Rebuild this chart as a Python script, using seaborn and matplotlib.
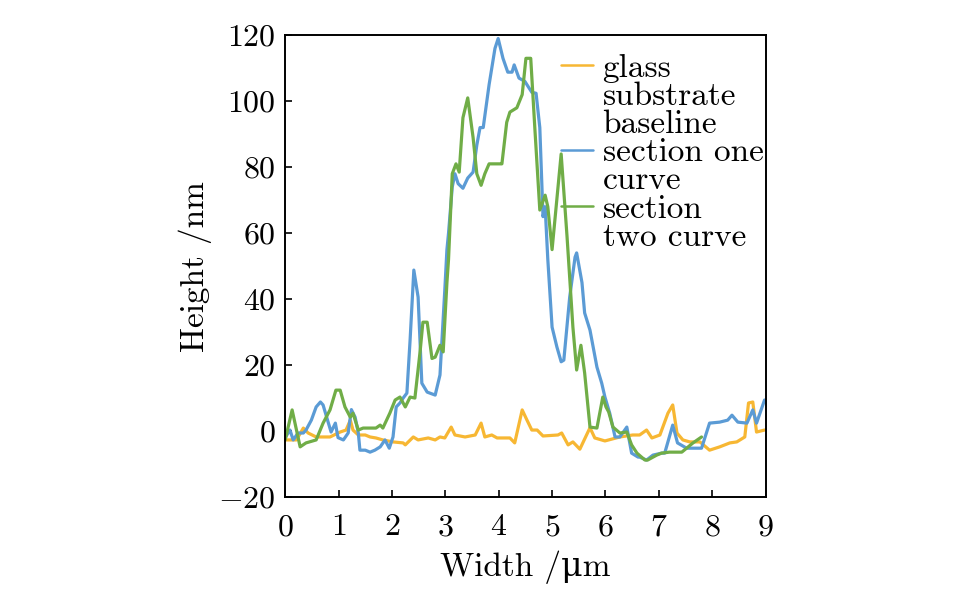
import numpy as np
import pandas as pd
import matplotlib
matplotlib.use("Agg")
import matplotlib.pyplot as plt
from matplotlib.lines import Line2D
import seaborn as sns

# values (width in um, height in nm)
glass_x = [0.00, 0.21, 0.34, 0.43, 0.58, 0.84, 1.03, 1.14, 1.22, 1.27, 1.37, 1.50, 1.59, 1.70,
           1.83, 2.02, 2.21, 2.25, 2.40, 2.49, 2.68, 2.81, 2.90, 2.99, 3.11, 3.18, 3.37, 3.56,
           3.67, 3.74, 3.87, 3.97, 4.21, 4.30, 4.44, 4.53, 4.62, 4.72, 4.83, 5.11, 5.18, 5.30,
           5.39, 5.52, 5.71, 5.80, 5.99, 6.27, 6.51, 6.64, 6.77, 6.87, 7.02, 7.17, 7.26, 7.34,
           7.45, 7.58, 7.77, 7.95, 8.14, 8.33, 8.46, 8.61, 8.68, 8.76, 8.83, 8.98]
glass_y = [-2.7, -2.7, 0.9, -0.6, -1.8, -1.8, -0.3, 0.3, 3.3, 0.3, -1.2, -1.2, -1.8, -2.1,
           -2.7, -3.3, -3.6, -4.2, -1.8, -2.7, -2.1, -2.7, -1.8, -2.1, 1.2, -1.2, -1.8, -1.2,
           2.4, -1.8, -1.2, -2.1, -2.1, -3.6, 6.4, 3.3, 0.3, 0.3, -1.5, -1.2, -0.6, -4.2,
           -3.3, -5.5, 1.0, -2.1, -3.0, -1.8, -1.2, -1.2, 0.3, -2.1, -1.2, 5.4, 7.9, -0.6,
           -2.7, -3.3, -3.3, -5.8, -4.8, -3.6, -3.3, -1.8, 8.5, 8.8, -0.3, 0.3]

one_x = [0.00, 0.09, 0.15, 0.24, 0.34, 0.39, 0.49, 0.58, 0.66, 0.71, 0.81, 0.86, 0.94, 0.99,
         1.09, 1.18, 1.24, 1.31, 1.37, 1.40, 1.50, 1.59, 1.68, 1.78, 1.87, 1.95, 2.02, 2.08,
         2.15, 2.21, 2.28, 2.34, 2.41, 2.49, 2.56, 2.66, 2.81, 2.90, 2.99, 3.03, 3.06, 3.13,
         3.18, 3.24, 3.33, 3.42, 3.52, 3.59, 3.65, 3.71, 3.82, 3.93, 3.99, 4.08, 4.17, 4.25,
         4.29, 4.38, 4.49, 4.62, 4.70, 4.77, 4.83, 4.87, 4.92, 5.00, 5.09, 5.17, 5.22, 5.33,
         5.43, 5.46, 5.56, 5.61, 5.71, 5.84, 5.93, 5.99, 6.08, 6.18, 6.27, 6.40, 6.49, 6.61,
         6.64, 6.77, 6.89, 7.05, 7.11, 7.26, 7.35, 7.52, 7.64, 7.80, 7.95, 8.14, 8.29, 8.37,
         8.48, 8.65, 8.76, 8.83, 8.98]
one_y = [-2.0, 0.3, -2.7, -0.6, -0.6, 0.3, 3.3, 7.3, 8.8, 7.9, 2.4, -0.3, 2.4, -2.0,
         -2.7, -0.6, 6.5, 4.2, -0.6, -5.8, -5.8, -6.4, -5.8, -4.8, -2.7, -5.2, -1.8, 7.3,
         8.5, 10.0, 11.5, 27.6, 48.8, 40.6, 14.5, 11.8, 10.9, 17.0, 42.7, 55.0, 60.0, 74.0,
         78.0, 75.0, 73.6, 76.7, 78.5, 86.7, 92.0, 92.0, 105.0, 116.0, 119.0, 113.0, 108.8, 108.8,
         111.0, 107.0, 106.0, 102.7, 102.4, 92.0, 65.0, 68.0, 52.0, 31.5, 25.5, 21.0, 21.5, 40.6,
         52.7, 54.0, 45.0, 35.8, 30.6, 19.4, 14.5, 10.3, 5.4, -1.8, -1.8, 1.2, -6.7, -7.9,
         -7.9, -8.8, -7.3, -6.7, -6.7, 1.8, -3.6, -5.2, -5.2, -5.2, 2.4, 2.7, 3.3, 4.8,
         2.7, 2.4, 6.4, 2.4, 9.4]

two_x = [0.00, 0.13, 0.28, 0.39, 0.58, 0.71, 0.84, 0.95, 1.03, 1.12, 1.22, 1.27, 1.37, 1.46,
         1.59, 1.70, 1.78, 1.83, 1.96, 2.06, 2.15, 2.25, 2.34, 2.43, 2.53, 2.58, 2.66, 2.75,
         2.81, 2.90, 2.96, 3.03, 3.06, 3.13, 3.20, 3.26, 3.33, 3.42, 3.52, 3.59, 3.67, 3.74,
         3.82, 4.02, 4.06, 4.15, 4.21, 4.34, 4.44, 4.51, 4.60, 4.68, 4.77, 4.87, 4.92, 5.00,
         5.17, 5.28, 5.39, 5.46, 5.54, 5.61, 5.71, 5.84, 5.95, 6.01, 6.06, 6.14, 6.27, 6.40,
         6.49, 6.59, 6.74, 6.79, 6.96, 7.05, 7.20, 7.43, 7.64, 7.80]
two_y = [-2.7, 6.4, -4.8, -3.6, -2.7, 2.4, 6.4, 12.4, 12.4, 7.3, 4.2, 5.4, 0.3, 0.9,
         0.9, 0.9, 1.8, 0.9, 5.4, 9.4, 10.3, 7.3, 10.3, 10.0, 24.5, 33.0, 33.0, 22.0,
         22.4, 26.0, 24.0, 45.0, 52.0, 78.0, 81.0, 78.5, 95.0, 101.0, 89.0, 78.0, 74.5, 78.0,
         81.0, 81.0, 81.0, 93.6, 96.7, 98.0, 102.0, 113.0, 113.0, 91.0, 67.0, 71.5, 68.0, 55.0,
         84.0, 59.0, 31.5, 18.5, 26.0, 17.6, 1.2, 0.9, 10.3, 7.3, 5.8, 1.2, -0.6, -0.3,
         -4.2, -6.7, -8.8, -8.8, -7.3, -6.7, -6.4, -6.4, -3.6, -1.8]

labels = ["glass\nsubstrate\nbaseline", "section one\ncurve", "section\ntwo curve"]
colors = ["#F7B733", "#5B9BD5", "#70AD47"]

sns.set_style("ticks")
plt.rcParams["font.family"] = ["cmr10", "DejaVu Serif"]
plt.rcParams["mathtext.fontset"] = "cm"
plt.rcParams["axes.formatter.use_mathtext"] = True
plt.rcParams["font.size"] = 23
plt.rcParams["text.color"] = "black"
plt.rcParams["axes.labelcolor"] = "black"
plt.rcParams["xtick.color"] = "black"
plt.rcParams["ytick.color"] = "black"

fig = plt.figure(figsize=(9.57, 5.97), dpi=100)
ax = fig.add_axes([0.298, 0.1675, 0.502, 0.7735])

for xs, ys, c in zip([glass_x, one_x, two_x], [glass_y, one_y, two_y], colors):
    sns.lineplot(x=xs, y=ys, color=c, linewidth=2.3, estimator=None, sort=False, ax=ax)

ax.set_xlim(0, 9)
ax.set_ylim(-20, 120)
ax.set_xticks(range(0, 10))
ax.set_yticks(range(-20, 121, 20))
ax.tick_params(direction="in", length=5, width=1.2, labelsize=23)
ax.tick_params(axis="x", pad=12)
ax.tick_params(axis="y", pad=7)
for s in ax.spines.values():
    s.set_visible(True)
    s.set_linewidth(1.4)
    s.set_color("black")
ax.set_xlabel("Width /\u03bcm", fontsize=24, labelpad=7)
ax.set_ylabel("Height /nm", fontsize=24, labelpad=4)

# one legend row per text line, handle only on the first line of each entry
handles, texts = [], []
for lab, c in zip(labels, colors):
    for i, part in enumerate(lab.split("\n")):
        if i == 0:
            handles.append(Line2D([], [], color=c, linewidth=1.8))
        else:
            handles.append(Line2D([], [], color="none"))
        texts.append(part)
ax.legend(handles, texts, loc="upper left", bbox_to_anchor=(0.56, 0.975), frameon=False,
          fontsize=24, labelspacing=-0.035, handlelength=0.95, handletextpad=0.3,
          borderaxespad=0, borderpad=0.2)

fig.savefig("out.png", dpi=100)
